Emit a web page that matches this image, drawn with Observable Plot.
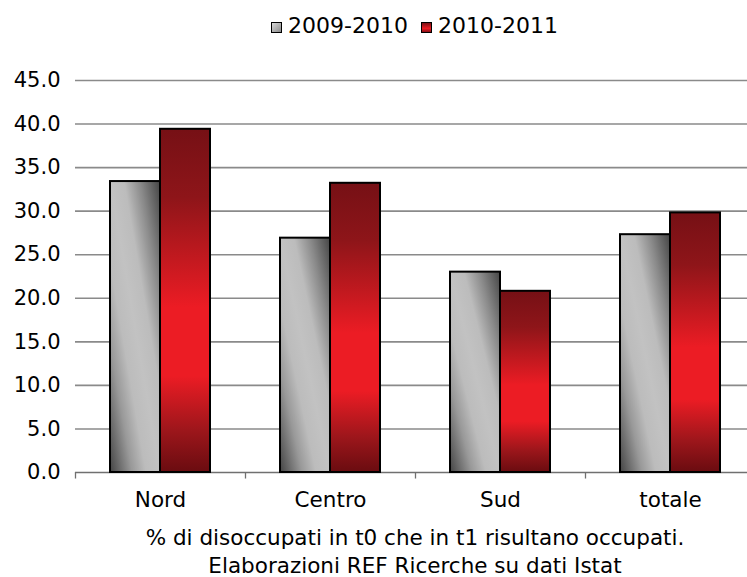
<!DOCTYPE html>
<html>
<head>
<meta charset="utf-8">
<script src="https://cdn.jsdelivr.net/npm/d3@7"></script>
<script src="https://cdn.jsdelivr.net/npm/@observablehq/plot@0.6"></script>
<style>
  html, body { margin: 0; padding: 0; background: #fff; overflow: hidden; width: 747px; height: 577px; }
  body { font-family: "DejaVu Sans", Verdana, sans-serif; color: #000; position: relative; }
  #legend { position: relative; height: 55px; }
  .sw { position: absolute; top: 22px; width: 9px; height: 9px; border: 1px solid #000; }
  .lt { position: absolute; top: 13px; font-size: 22px; line-height: 26px; white-space: nowrap; }
  #caption { position: absolute; left: 40px; top: 524px; width: 750px; text-align: center; font-size: 21.5px; line-height: 27px; }
  #caption div + div { margin-top: 1px; }
</style>
</head>
<body>
<div id="legend"></div>
<div id="chart"></div>
<div id="caption"></div>
<script>
const categories = ["Nord", "Centro", "Sud", "totale"];
const series = ["2009-2010", "2010-2011"];
const values2009 = [33.4, 26.9, 23.0, 27.3];
const values2010 = [39.4, 33.2, 20.8, 29.8];
const yTicks = [0, 5, 10, 15, 20, 25, 30, 35, 40, 45];
const captionLines = [
  "% di disoccupati in t0 che in t1 risultano occupati.",
  "Elaborazioni REF Ricerche su dati Istat"
];

const dataGrey = categories.map((c, i) => ({category: c, series: series[0], value: values2009[i]}));
const dataRed = categories.map((c, i) => ({category: c, series: series[1], value: values2010[i]}));

// Legend
const legend = document.getElementById("legend");
const legendPos = [{sw: 271, tx: 288}, {sw: 421, tx: 438}];
const swBg = [
  "linear-gradient(135deg, #d8d8d8, #8a8a8a)",
  "linear-gradient(180deg, #7a1015, #ec1c24 60%, #8a1015)"
];
series.forEach((s, i) => {
  const sw = document.createElement("div");
  sw.className = "sw";
  sw.style.left = legendPos[i].sw + "px";
  sw.style.background = swBg[i];
  legend.appendChild(sw);
  const t = document.createElement("div");
  t.className = "lt";
  t.style.left = legendPos[i].tx + "px";
  t.textContent = s;
  legend.appendChild(t);
});

const svg = Plot.plot({
  width: 747,
  height: 466,
  marginTop: 25,
  marginLeft: 75,
  marginRight: 0,
  marginBottom: 49,
  style: {fontFamily: "DejaVu Sans, Verdana, sans-serif", fontSize: "22px", color: "#000", background: "transparent", overflow: "hidden"},
  x: {domain: categories, range: [75, 755], padding: 0, label: null},
  y: {domain: [0, 45], label: null},
  marks: [
    Plot.ruleY(yTicks.filter(d => d > 0), {stroke: "#8a8a8a", strokeWidth: 1.6}),
    Plot.ruleY([0], {stroke: "#707070", strokeWidth: 1.6}),
    Plot.ruleX(categories, {x: d => d, dx: -85, y1: 0, y2: -0.75, stroke: "#707070", strokeWidth: 1.3}),
    Plot.barY(dataGrey, {x: "category", y: "value", fill: "url(#gradGrey)", stroke: "#000", strokeWidth: 2, insetLeft: 35, insetRight: 85}),
    Plot.barY(dataRed, {x: "category", y: "value", fill: "url(#gradRed)", stroke: "#000", strokeWidth: 2, insetLeft: 85, insetRight: 35}),
    Plot.axisY(yTicks, {tickSize: 0, tickPadding: 15, tickFormat: d3.format(".1f"), fontSize: 21, label: null}),
    Plot.axisX({tickSize: 0, tickPadding: 19, fontSize: 21.5, label: null})
  ]
});

const defs = d3.select(svg).insert("defs", ":first-child");
const gg = defs.append("linearGradient").attr("id", "gradGrey")
  .attr("x1", 0).attr("y1", 1).attr("x2", 1).attr("y2", 0);
[[0, "#444444"], [0.22, "#999999"], [0.36, "#bcbcbc"], [0.5, "#c2c2c2"], [0.64, "#bcbcbc"], [0.8, "#8a8a8a"], [1, "#454545"]]
  .forEach(([o, c]) => gg.append("stop").attr("offset", o).attr("stop-color", c));
const gr = defs.append("linearGradient").attr("id", "gradRed")
  .attr("x1", 0).attr("y1", 0).attr("x2", 0).attr("y2", 1);
[[0, "#761015"], [0.2, "#8e1519"], [0.52, "#ec1c24"], [0.72, "#ec1c24"], [0.88, "#9c161b"], [1, "#6a0c10"]]
  .forEach(([o, c]) => gr.append("stop").attr("offset", o).attr("stop-color", c));

document.getElementById("chart").appendChild(svg);

const cap = document.getElementById("caption");
captionLines.forEach(l => {
  const d = document.createElement("div");
  d.textContent = l;
  cap.appendChild(d);
});
</script>
</body>
</html>
